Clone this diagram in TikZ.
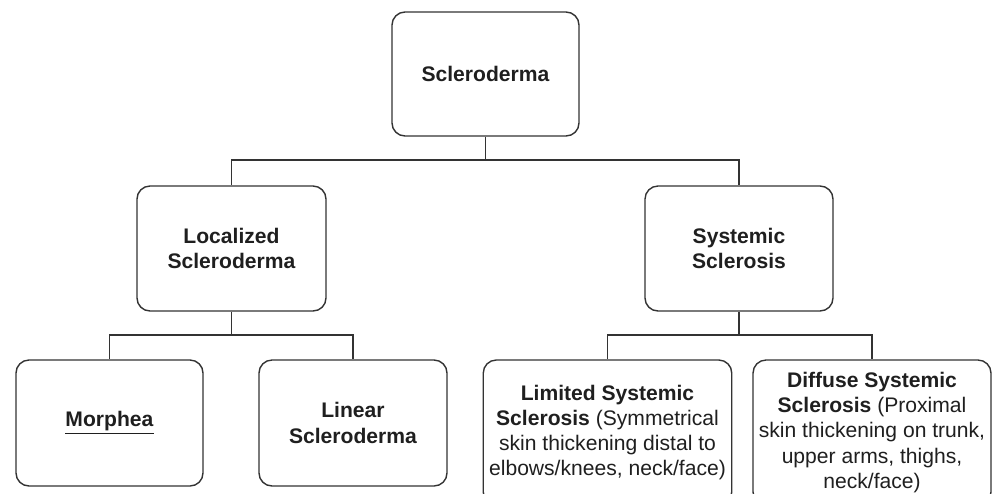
\documentclass[tikz,border=0pt]{standalone}
\usepackage{fontspec}
\setmainfont{Liberation Sans}
\usepackage{tikz}

\begin{document}
\begin{tikzpicture}[
    box/.style={draw=black!80, line width=0.8pt, rounded corners=0.26cm, minimum width=3.76cm, minimum height=2.5cm, align=center, text=black!88, font=\fontsize{12}{14.4}\selectfont},
    wbox/.style={box, minimum height=2.9cm},
    link/.style={draw=black!80, line width=0.8pt}
]
\useasboundingbox (0,0) rectangle (19.9,-9.86);
\clip (0,0) rectangle (19.9,-9.86);

\node[box, minimum width=3.74cm, minimum height=2.48cm] (SCL) at (9.71,-1.48) {\textbf{Scleroderma}};
\node[box, minimum width=3.78cm] (LOC) at (4.63,-4.97) {\textbf{Localized}\\\textbf{Scleroderma}};
\node[box] (SYS) at (14.78,-4.97) {\textbf{Systemic}\\\textbf{Sclerosis}};
\node[box, minimum width=3.74cm, minimum height=2.52cm] (MOR) at (2.19,-8.46) {\underline{\textbf{Morphea}}};
\node[box, minimum height=2.52cm] (LIN) at (7.06,-8.46) {\textbf{Linear}\\\textbf{Scleroderma}};
\node[wbox, minimum width=4.9cm] (LIM) at (12.15,-8.65) {\textbf{Limited Systemic}\\\textbf{Sclerosis} (Symmetrical\\skin thickening distal to\\elbows/knees, neck/face)};
\node[wbox, minimum width=4.72cm] (DIF) at (17.44,-8.65) {\textbf{Diffuse Systemic}\\\textbf{Sclerosis} (Proximal\\skin thickening on trunk,\\upper arms, thighs,\\neck/face)};

\coordinate (J1) at (9.71,-3.2);
\coordinate (J2) at (4.63,-6.7);
\coordinate (J3) at (14.78,-6.7);

\draw[link] (SCL.south) -- (J1) -| (LOC.north);
\draw[link] (J1) -| (SYS.north);
\draw[link] (LOC.south) -- (J2) -| (MOR.north);
\draw[link] (J2) -| (LIN.north);
\draw[link] (SYS.south) -- (J3) -| (LIM.north);
\draw[link] (J3) -| (DIF.north);
\end{tikzpicture}
\end{document}
